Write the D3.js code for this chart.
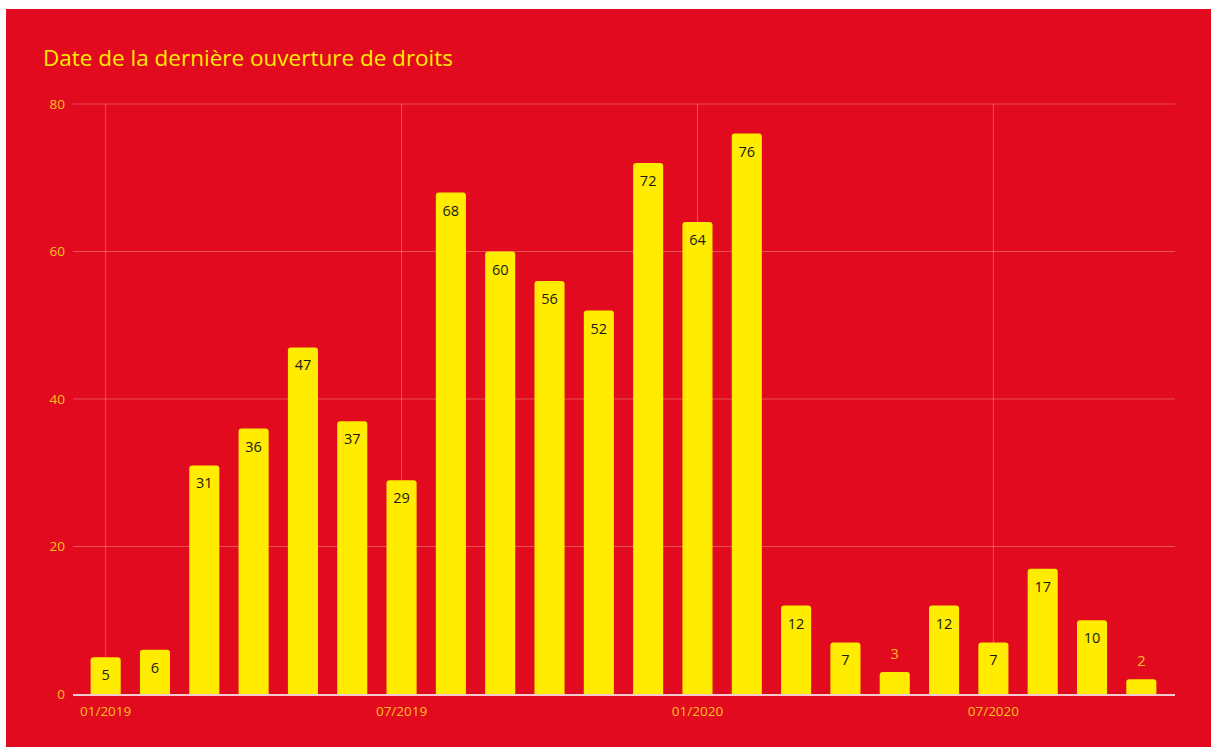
<!DOCTYPE html>
<html>
<head>
    <meta charset="utf-8">
    <title>Date de la dernière ouverture de droits</title>
    <script src="https://d3js.org/d3.v7.min.js"></script>
    <style>
        body { margin: 0; background: #fff; }
        svg { display: block; }
    </style>
</head>
<body>
    <svg width="1211" height="747"></svg>
    <script>
        // monthly counts, 01/2019 .. 10/2020
        var months = ["01/2019","02/2019","03/2019","04/2019","05/2019","06/2019","07/2019","08/2019","09/2019","10/2019","11/2019","12/2019",
                      "01/2020","02/2020","03/2020","04/2020","05/2020","06/2020","07/2020","08/2020","09/2020","10/2020"];
        var values = [5,6,31,36,47,37,29,68,60,56,52,72,64,76,12,7,3,12,7,17,10,2];
        var tickMonths = ["01/2019","07/2019","01/2020","07/2020"];
        var yTicks = [0,20,40,60,80];

        var svg = d3.select("svg"),
            width = +svg.attr("width"),
            height = +svg.attr("height");

        var red = "#e20a1e", yellow = "#ffec00", tickCol = "#f9c21b";

        svg.append("rect")
            .attr("x", 6).attr("y", 9)
            .attr("width", width - 6).attr("height", height - 9)
            .attr("fill", red);

        svg.append("text")
            .attr("x", 43).attr("y", 66)
            .attr("fill", yellow)
            .style("font-family", "'Open Sans', sans-serif")
            .style("font-size", "22.5px")
            .text("Date de la dernière ouverture de droits");

        var gridLeft = 73, gridRight = 1175;

        var x = d3.scaleBand()
            .domain(months)
            .range([81, 1166])
            .paddingInner(0.39)
            .paddingOuter(0.195);

        var y = d3.scaleLinear()
            .domain([0, 80])
            .range([694, 104]);

        // horizontal grid
        svg.append("g").selectAll("line")
            .data(yTicks.filter(function(d) { return d > 0; }))
            .enter().append("line")
            .attr("x1", gridLeft).attr("x2", gridRight)
            .attr("y1", function(d) { return y(d); })
            .attr("y2", function(d) { return y(d); })
            .attr("stroke", "rgba(255,255,255,0.28)")
            .attr("stroke-width", 1);

        // vertical grid
        svg.append("g").selectAll("line")
            .data(tickMonths)
            .enter().append("line")
            .attr("x1", function(d) { return x(d) + x.bandwidth() / 2; })
            .attr("x2", function(d) { return x(d) + x.bandwidth() / 2; })
            .attr("y1", y(80)).attr("y2", y(0))
            .attr("stroke", "rgba(255,255,255,0.28)")
            .attr("stroke-width", 1);

        // y labels
        svg.append("g").selectAll("text")
            .data(yTicks)
            .enter().append("text")
            .attr("x", 65)
            .attr("y", function(d) { return y(d); })
            .attr("dy", "0.35em")
            .attr("text-anchor", "end")
            .attr("fill", tickCol)
            .style("font-family", "'Open Sans', sans-serif")
            .style("font-size", "13.5px")
            .text(function(d) { return d; });

        // bars with rounded tops
        var r = 3;
        svg.append("g").selectAll("path")
            .data(values)
            .enter().append("path")
            .attr("fill", yellow)
            .attr("d", function(d, i) {
                var x0 = x(months[i]), w = x.bandwidth(), top = y(d), bot = y(0);
                return "M" + x0 + "," + bot +
                       "V" + (top + r) +
                       "Q" + x0 + "," + top + " " + (x0 + r) + "," + top +
                       "H" + (x0 + w - r) +
                       "Q" + (x0 + w) + "," + top + " " + (x0 + w) + "," + (top + r) +
                       "V" + bot + "Z";
            });

        // value labels
        svg.append("g").selectAll("text")
            .data(values)
            .enter().append("text")
            .attr("x", function(d, i) { return x(months[i]) + x.bandwidth() / 2; })
            .attr("y", function(d) { return d >= 5 ? y(d) + 23 : y(d) - 13; })
            .attr("text-anchor", "middle")
            .attr("fill", function(d) { return d >= 5 ? "#1a1a1a" : tickCol; })
            .style("font-family", "'Open Sans', sans-serif")
            .style("font-size", "14.5px")
            .text(function(d) { return d; });

        // baseline
        svg.append("line")
            .attr("x1", gridLeft).attr("x2", gridRight)
            .attr("y1", y(0) + 1).attr("y2", y(0) + 1)
            .attr("stroke", "#f6c9cc")
            .attr("stroke-width", 2);

        // x labels
        svg.append("g").selectAll("text")
            .data(tickMonths)
            .enter().append("text")
            .attr("x", function(d) { return x(d) + x.bandwidth() / 2; })
            .attr("y", 716)
            .attr("text-anchor", "middle")
            .attr("fill", tickCol)
            .style("font-family", "'Open Sans', sans-serif")
            .style("font-size", "13.5px")
            .text(function(d) { return d; });
    </script>
</body>
</html>
